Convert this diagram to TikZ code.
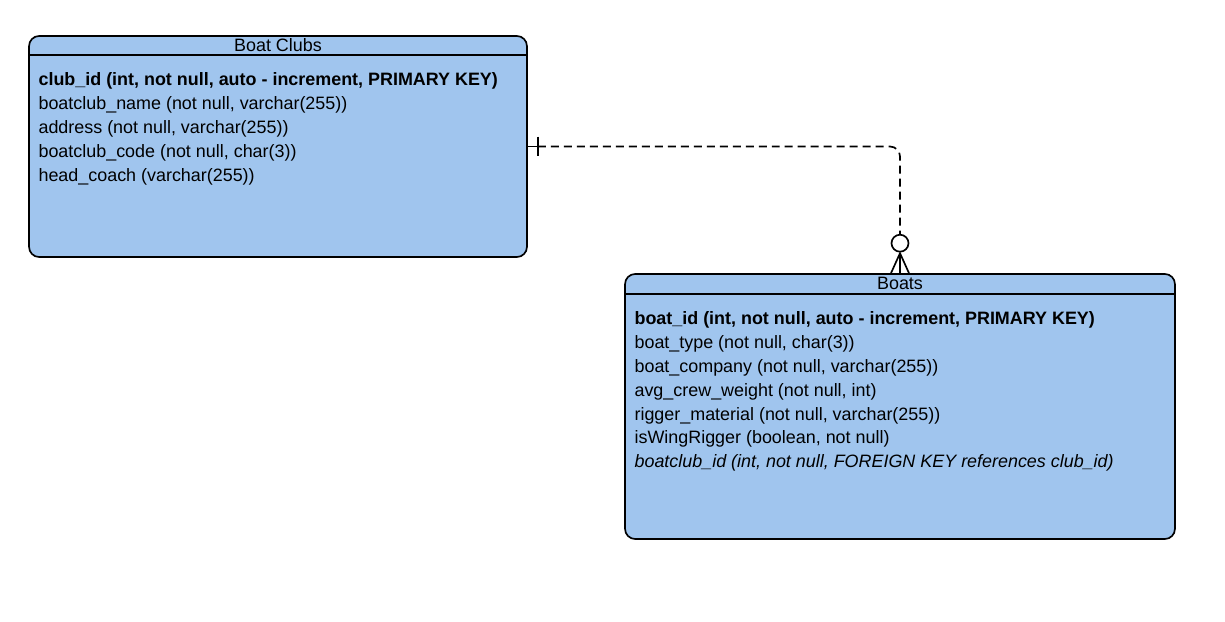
\documentclass[tikz,border=0pt]{standalone}
\usepackage{fontspec}
\setmainfont{Liberation Sans}
\usetikzlibrary{positioning,calc}
\definecolor{tablefill}{HTML}{A0C5EE}

\begin{document}
\begin{tikzpicture}[
  x=0.02cm, y=-0.02cm,
  tbox/.style={draw, line width=0.95pt, rounded corners=0.2cm, fill=tablefill},
  ttitle/.style={font=\fontsize{10.2}{12}\selectfont, inner sep=0pt},
  tfields/.style={align=left, inner sep=0pt, anchor=north west,
                  font=\fontsize{10.2}{13.6}\selectfont},
  rel/.style={line width=0.95pt, dash pattern=on 0.16cm off 0.1cm},
  relend/.style={line width=0.95pt},
]
  \useasboundingbox (0,0) rectangle (1225,622);

  % Boat Clubs table (LEFT)
  \node[tbox, minimum width=9.96cm, minimum height=4.42cm] (clubs) at (278,146.5) {};
  \draw[line width=0.95pt] ([yshift=-0.4cm]clubs.north west) -- ([yshift=-0.4cm]clubs.north east);
  \node[ttitle] (clubs-title) at ([yshift=-0.2cm]clubs.north) {Boat Clubs};
  \node[tfields] (clubs-fields) at ([xshift=0.2cm,yshift=-0.74cm]clubs.north west)
    {\textbf{club\_id (int, not null, auto - increment, PRIMARY KEY)}\\
     boatclub\_name (not null, varchar(255))\\
     address (not null, varchar(255))\\
     boatclub\_code (not null, char(3))\\
     head\_coach (varchar(255))};

  % Boats table (RIGHT)
  \node[tbox, minimum width=11cm, minimum height=5.3cm] (boats) at (900,406.5) {};
  \draw[line width=0.95pt] ([yshift=-0.42cm]boats.north west) -- ([yshift=-0.42cm]boats.north east);
  \node[ttitle] (boats-title) at ([yshift=-0.21cm]boats.north) {Boats};
  \node[tfields] (boats-fields) at ([xshift=0.2cm,yshift=-0.76cm]boats.north west)
    {\textbf{boat\_id (int, not null, auto - increment, PRIMARY KEY)}\\
     boat\_type (not null, char(3))\\
     boat\_company (not null, varchar(255))\\
     avg\_crew\_weight (not null, int)\\
     rigger\_material (not null, varchar(255))\\
     isWingRigger (boolean, not null)\\
     \textit{boatclub\_id (int, not null, FOREIGN KEY references club\_id)}};

  % relation: one club -- zero or many boats
  \coordinate (tick) at ([xshift=0.2cm]clubs.east);
  \coordinate (foot) at ([yshift=0.4cm]boats.north);
  \draw[rel, rounded corners=0.2cm] (tick) -| (foot);
  \draw[relend] (clubs.east) -- (tick);
  \draw[relend] ([yshift=0.2cm]tick) -- ([yshift=-0.2cm]tick);
  \draw[relend] ([xshift=-0.18cm]boats.north) -- (foot) -- ([xshift=0.18cm]boats.north);
  \draw[relend] (foot) -- (boats.north);
  \draw[relend, fill=white] ([yshift=0.6cm]boats.north) circle (0.17cm);
\end{tikzpicture}
\end{document}
